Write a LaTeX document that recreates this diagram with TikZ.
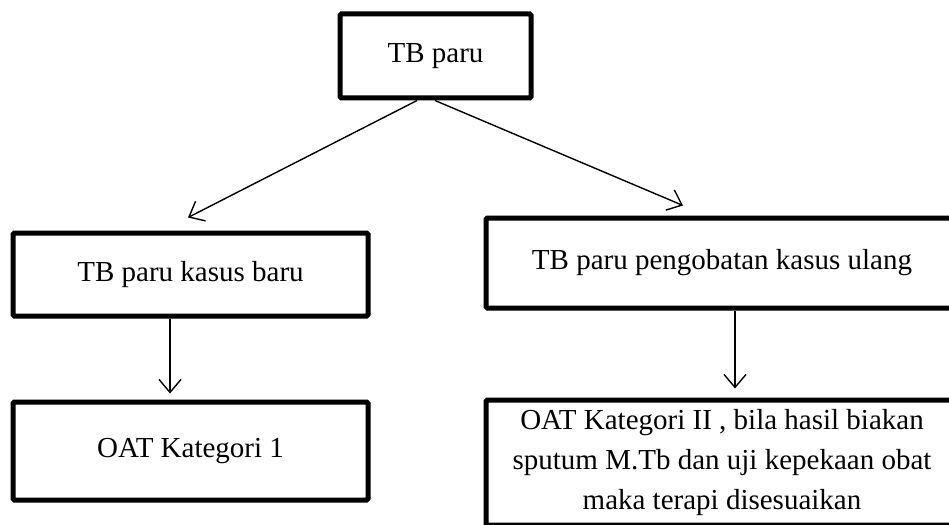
\documentclass[tikz,border=0pt]{standalone}
\usepackage{fontspec}
\setmainfont{Liberation Serif}
\usetikzlibrary{arrows.meta}

\begin{document}
\begin{tikzpicture}[x=1pt, y=-1pt]
\tikzstyle{kotak}=[rectangle, draw=black, line width=5pt, rounded corners=1.5pt, inner sep=0pt, align=center, font=\fontsize{29}{40}\selectfont]
\tikzstyle{panah}=[line width=1.4pt, -{Straight Barb[length=13pt, width=22pt, line width=1.4pt]}]
\useasboundingbox (0,0) rectangle (949,524);

% Atas
\draw node at (435.5, 56) [kotak, minimum width=191pt, minimum height=84pt] (tb_paru) {TB paru};

% Tengah
\draw node at (190.5, 274.5) [kotak, minimum width=355pt, minimum height=83pt] (kasus_baru) {TB paru kasus baru};
\draw node at (722, 263) [kotak, minimum width=472pt, minimum height=90pt] (kasus_ulang) {TB paru pengobatan kasus ulang};

% Bawah
\draw node at (190.5, 451) [kotak, minimum width=355pt, minimum height=98pt] (kategori_1) {OAT Kategori 1};
\draw node at (722, 462.5) [kotak, minimum width=472pt, minimum height=125pt] (kategori_2) {OAT Kategori II , bila hasil biakan\\sputum M.Tb dan uji kepekaan obat\\maka terapi disesuaikan};

% Panah
\draw [panah] ([xshift=-18.5pt]tb_paru.south) to ([xshift=-2.5pt, yshift=13pt]kasus_baru.north);
\draw [panah] ([xshift=-0.5pt]tb_paru.south) to ([xshift=-39pt, yshift=10pt]kasus_ulang.north);
\draw [panah] ([xshift=-20.5pt]kasus_baru.south) to ([xshift=-20.5pt, yshift=6pt]kategori_1.north);
\draw [panah] ([xshift=13pt]kasus_ulang.south) to ([xshift=13pt, yshift=9pt]kategori_2.north);
\end{tikzpicture}
\end{document}
